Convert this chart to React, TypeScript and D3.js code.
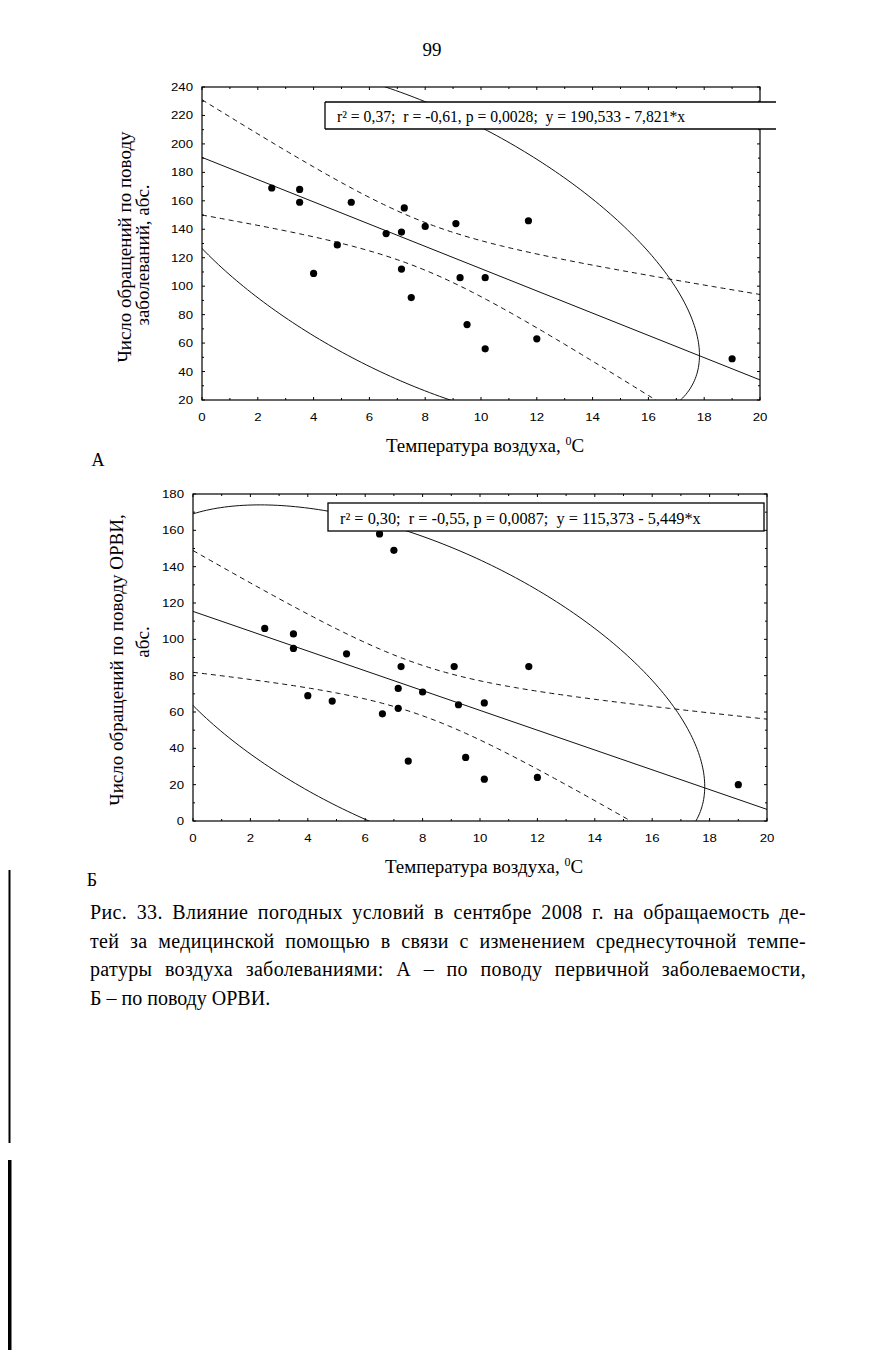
import React, { useLayoutEffect, useRef } from "react";
import * as d3 from "d3";

// ---------- DATA ----------
const tempA = [2.5, 3.5, 3.5, 4, 4.85, 5.35, 6.5, 6.6, 7, 7.15, 7.15, 7.25, 7.5, 8, 9.1, 9.25, 9.5, 10.15, 10.15, 11.7, 12, 19];
const countA = [169, 168, 159, 109, 129, 159, 224, 137, 214, 138, 112, 155, 92, 142, 144, 106, 73, 106, 56, 146, 63, 49];
const tempB = [2.5, 3.5, 3.5, 4, 4.85, 5.35, 6.5, 6.6, 7, 7.15, 7.15, 7.25, 7.5, 8, 9.1, 9.25, 9.5, 10.15, 10.15, 11.7, 12, 19];
const countB = [106, 103, 95, 69, 66, 92, 158, 59, 149, 73, 62, 85, 33, 71, 85, 64, 35, 65, 23, 85, 24, 20];

const coefA = [190.533, -7.821]; // intercept, slope
const coefB = [115.373, -5.449];

const legendA = "r² = 0,37;  r = -0,61, p = 0,0028;  y = 190,533 - 7,821*x";
const legendB = "r² = 0,30;  r = -0,55, p = 0,0087;  y = 115,373 - 5,449*x";

const xTicks = [0, 2, 4, 6, 8, 10, 12, 14, 16, 18, 20];
const yTicksA = [20, 40, 60, 80, 100, 120, 140, 160, 180, 200, 220, 240];
const yTicksB = [0, 20, 40, 60, 80, 100, 120, 140, 160, 180];

const captionLines = [
  "Рис. 33. Влияние погодных условий в сентябре 2008 г. на обращаемость де-",
  "тей за медицинской помощью в связи с изменением среднесуточной темпе-",
  "ратуры воздуха заболеваниями: А – по поводу первичной заболеваемости,",
  "Б – по поводу ОРВИ.",
];

// statistical constants for n = 22 (df = 20)
const T_975_20 = 2.086;
const F_95_2_20 = 3.4928;

const SERIF = "Liberation Serif, Times New Roman, serif";
const SANS = "Liberation Sans, Arial, sans-serif";

type PanelProps = {
  id: string;
  xs: number[];
  ys: number[];
  coef: number[];
  legend: string;
  legendSize: number;
  yTicks: number[];
  yDomain: [number, number];
  left: number;
  right: number;
  top: number;
  bottom: number;
  box: { x0: number; x1: number; y0: number; y1: number; open: boolean };
};

function Panel(p: PanelProps) {
  const x = d3.scaleLinear().domain([0, 20]).range([p.left, p.right]);
  const y = d3.scaleLinear().domain(p.yDomain).range([p.bottom, p.top]);
  const n = p.xs.length;
  const mx = d3.mean(p.xs)!;
  const my = d3.mean(p.ys)!;
  let sxx = 0, syy = 0, sxy = 0, sse = 0;
  for (let i = 0; i < n; i++) {
    const dx = p.xs[i] - mx, dy = p.ys[i] - my;
    sxx += dx * dx; syy += dy * dy; sxy += dx * dy;
    const r = p.ys[i] - (p.coef[0] + p.coef[1] * p.xs[i]);
    sse += r * r;
  }
  const s = Math.sqrt(sse / (n - 2));
  const fit = (v: number) => p.coef[0] + p.coef[1] * v;
  const xsGrid = d3.range(0, 20.001, 0.1);
  const half = (v: number) => T_975_20 * s * Math.sqrt(1 / n + ((v - mx) ** 2) / sxx);
  const line = d3.line<[number, number]>().x(d => x(d[0])).y(d => y(d[1]));
  const upper = line(xsGrid.map(v => [v, fit(v) + half(v)]));
  const lower = line(xsGrid.map(v => [v, fit(v) - half(v)]));
  const reg = line([[0, fit(0)], [20, fit(20)]]);

  // 95% prediction ellipse
  const vx = sxx / (n - 1), vy = syy / (n - 1), cxy = sxy / (n - 1);
  const c = (2 * (n - 1) * (n + 1)) / (n * (n - 2)) * F_95_2_20;
  const L11 = Math.sqrt(vx), L21 = cxy / L11, L22 = Math.sqrt(vy - L21 * L21);
  const sc = Math.sqrt(c);
  const ell = line(
    d3.range(0, 2 * Math.PI + 0.001, Math.PI / 180).map(t => [
      mx + sc * L11 * Math.cos(t),
      my + sc * (L21 * Math.cos(t) + L22 * Math.sin(t)),
    ] as [number, number])
  );

  const yStep = p.yTicks[1] - p.yTicks[0];
  const minorY = d3.range(p.yDomain[0], p.yDomain[1] + 0.001, yStep / 2);
  const minorX = d3.range(0, 20.001, 1);
  const clip = `clip-${p.id}`;
  const tk = 3;
  return (
    <g>
      <defs>
        <clipPath id={clip}>
          <rect x={p.left} y={p.top} width={p.right - p.left} height={p.bottom - p.top} />
        </clipPath>
      </defs>
      <g clipPath={`url(#${clip})`} fill="none" stroke="#111" strokeWidth={1}>
        <path d={ell || ""} />
        <path d={upper || ""} strokeDasharray="5,4" />
        <path d={lower || ""} strokeDasharray="5,4" />
        <path d={reg || ""} />
      </g>
      <g fill="#000">
        {p.xs.map((v, i) => (
          <circle key={i} cx={x(v)} cy={y(p.ys[i])} r={3.6} />
        ))}
      </g>
      <rect x={p.left} y={p.top} width={p.right - p.left} height={p.bottom - p.top} fill="none" stroke="#000" strokeWidth={1.2} />
      <g stroke="#000" strokeWidth={1}>
        {minorY.map((v, i) => {
          const len = i % 2 === 0 ? tk : 2;
          return (
            <g key={"y" + i}>
              <line x1={p.left} x2={p.left + len} y1={y(v)} y2={y(v)} />
              <line x1={p.right} x2={p.right - len} y1={y(v)} y2={y(v)} />
            </g>
          );
        })}
        {minorX.map((v, i) => {
          const len = i % 2 === 0 ? tk : 2;
          return (
            <g key={"x" + i}>
              <line x1={x(v)} x2={x(v)} y1={p.bottom} y2={p.bottom - len} />
              <line x1={x(v)} x2={x(v)} y1={p.top} y2={p.top + len} />
            </g>
          );
        })}
      </g>
      {p.box.open ? (
        <g>
          <rect x={p.box.x0} y={p.box.y0} width={p.box.x1 - p.box.x0} height={p.box.y1 - p.box.y0} fill="#fff" stroke="none" />
          <line x1={p.box.x0} x2={p.box.x1} y1={p.box.y0} y2={p.box.y0} stroke="#000" strokeWidth={1.3} />
          <line x1={p.box.x0} x2={p.box.x1} y1={p.box.y1} y2={p.box.y1} stroke="#000" strokeWidth={1.3} />
          <line x1={p.box.x0} x2={p.box.x0} y1={p.box.y0} y2={p.box.y1} stroke="#000" strokeWidth={1.3} />
        </g>
      ) : (
        <rect x={p.box.x0} y={p.box.y0} width={p.box.x1 - p.box.x0} height={p.box.y1 - p.box.y0} fill="#fff" stroke="#000" strokeWidth={1.3} />
      )}
      <text x={p.box.x0 + 12} y={p.box.y1 - 7} fontFamily={SERIF} fontSize={p.legendSize} xmlSpace="preserve" style={{ whiteSpace: "pre" }}>
        {p.legend}
      </text>
      <g fontFamily={SANS} fontSize={11.5} fill="#000">
        {p.yTicks.map(v => (
          <text key={v} transform={`translate(${p.left - 9},${y(v) + 4}) scale(1.15,1)`} textAnchor="end">{v}</text>
        ))}
        {xTicks.map(v => (
          <text key={v} transform={`translate(${x(v)},${p.bottom + 21}) scale(1.15,1)`} textAnchor="middle">{v}</text>
        ))}
      </g>
    </g>
  );
}

function XTitle({ cx, by }: { cx: number; by: number }) {
  return (
    <text x={cx} y={by} textAnchor="middle" fontFamily={SERIF} fontSize={19}>
      Температура воздуха, <tspan fontSize={12} dy={-7}>0</tspan><tspan dy={7}>C</tspan>
    </text>
  );
}

function JustLine({ text, x, y, width, justify }: { text: string; x: number; y: number; width: number; justify: boolean }) {
  const ref = useRef<SVGTextElement>(null);
  useLayoutEffect(() => {
    const el = ref.current;
    if (!el || !justify) return;
    el.setAttribute("word-spacing", "0");
    const w = el.getComputedTextLength();
    const spaces = (text.match(/ /g) || []).length;
    if (spaces > 0 && w < width) {
      el.setAttribute("word-spacing", String((width - w) / spaces));
    }
  }, [text, width, justify]);
  return (
    <text ref={ref} x={x} y={y} letterSpacing={justify ? 0.35 : 0}>{text}</text>
  );
}

export default function App() {
  return (
    <svg width={873} height={1350} style={{ position: "absolute", left: 0, top: 0, background: "#fff" }}>
      <rect x={0} y={0} width={873} height={1350} fill="#fff" />
      <text x={432} y={56} textAnchor="middle" fontFamily={SERIF} fontSize={19}>99</text>

      <Panel
        id="a" xs={tempA} ys={countA} coef={coefA} legend={legendA} legendSize={15.7}
        yTicks={yTicksA} yDomain={[20, 240]}
        left={202} right={760} top={87} bottom={400}
        box={{ x0: 325, x1: 776, y0: 102, y1: 129, open: true }}
      />
      <XTitle cx={485} by={452} />
      <text transform="translate(131,247) rotate(-90)" textAnchor="middle" fontFamily={SERIF} fontSize={19}>Число обращений по поводу</text>
      <text transform="translate(149,255) rotate(-90)" textAnchor="middle" fontFamily={SERIF} fontSize={19}>заболеваний, абс.</text>
      <text x={98} y={466} textAnchor="middle" fontFamily={SERIF} fontSize={18}>А</text>

      <Panel
        id="b" xs={tempB} ys={countB} coef={coefB} legend={legendB} legendSize={16.3}
        yTicks={yTicksB} yDomain={[0, 180]}
        left={193} right={767} top={494} bottom={821}
        box={{ x0: 328, x1: 764, y0: 503, y1: 531, open: false }}
      />
      <XTitle cx={484} by={873} />
      <text transform="translate(123,660) rotate(-90)" textAnchor="middle" fontFamily={SERIF} fontSize={19}>Число обращений по поводу ОРВИ,</text>
      <text transform="translate(149,642) rotate(-90)" textAnchor="middle" fontFamily={SERIF} fontSize={19}>абс.</text>
      <text x={92} y={886} textAnchor="middle" fontFamily={SERIF} fontSize={18}>Б</text>

      <g fontFamily={SERIF} fontSize={20}>
        {captionLines.map((t, i) => (
          <JustLine key={i} text={t} x={90} y={919 + i * 28.7} width={716} justify={i < 3} />
        ))}
      </g>

      {/* scanned page edge */}
      <rect x={8.5} y={870} width={2} height={273} fill="#000" />
      <rect x={8} y={1160} width={3.5} height={190} fill="#000" />
    </svg>
  );
}
